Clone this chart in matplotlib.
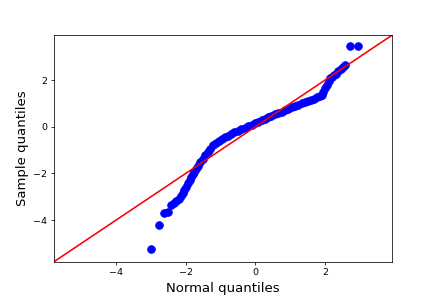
import matplotlib
matplotlib.use("Agg")
import matplotlib.pyplot as plt

# theoretical (normal) quantiles and matching sample quantiles
theoretical_q = [
    -3.00, -2.77, -2.61, -2.50, -2.42, -2.35, -2.28, -2.20, -2.13, -2.08,
    -2.04, -1.99, -1.94, -1.89, -1.84, -1.80, -1.75, -1.70, -1.65, -1.58,
    -1.51, -1.44, -1.37, -1.30, -1.22, -1.13, -1.03, -0.95, -0.87, -0.79,
    -0.70, -0.60, -0.50, -0.40, -0.30, -0.20, -0.10, -0.02, 0.08, 0.18,
    0.27, 0.36, 0.46, 0.55, 0.65, 0.75, 0.85, 0.94, 1.04, 1.13,
    1.23, 1.33, 1.42, 1.52, 1.60, 1.68, 1.76, 1.85, 1.90, 1.95,
    2.00, 2.05, 2.10, 2.14, 2.19, 2.25, 2.30, 2.38, 2.45, 2.52,
    2.57, 2.72, 2.94,
]
sample_q = [
    -5.24, -4.22, -3.70, -3.65, -3.36, -3.26, -3.19, -3.08, -2.98, -2.84,
    -2.70, -2.56, -2.42, -2.28, -2.14, -2.03, -1.92, -1.80, -1.67, -1.52,
    -1.36, -1.22, -1.08, -0.94, -0.80, -0.69, -0.59, -0.51, -0.44, -0.38,
    -0.31, -0.23, -0.17, -0.10, -0.04, 0.02, 0.08, 0.14, 0.20, 0.27,
    0.34, 0.40, 0.47, 0.53, 0.59, 0.65, 0.71, 0.77, 0.83, 0.89,
    0.95, 1.00, 1.05, 1.10, 1.15, 1.20, 1.26, 1.31, 1.38, 1.50,
    1.65, 1.80, 1.95, 2.07, 2.15, 2.20, 2.25, 2.38, 2.48, 2.58,
    2.66, 3.48, 3.48,
]
lims = [-5.78, 3.93]

dpi = 68
fig = plt.figure(figsize=(436 / dpi, 300 / dpi), dpi=dpi)
ax = fig.add_axes([54 / 436, 38.3 / 300, 338.3 / 436, 226.7 / 300])

ax.plot(theoretical_q, sample_q, marker="o", linestyle="none",
        markerfacecolor="b", markeredgecolor="b", markersize=8)
# 45 degree reference line
ax.plot(lims, lims, color="r", linewidth=1.7)

ax.set_xlim(lims)
ax.set_ylim(lims)
ax.set_xticks([-4, -2, 0, 2])
ax.set_yticks([-4, -2, 0, 2])
ax.set_xlabel("Normal quantiles", fontsize=14, labelpad=5)
ax.set_ylabel("Sample quantiles", fontsize=14, labelpad=5)

fig.savefig("out.png", dpi=dpi)
